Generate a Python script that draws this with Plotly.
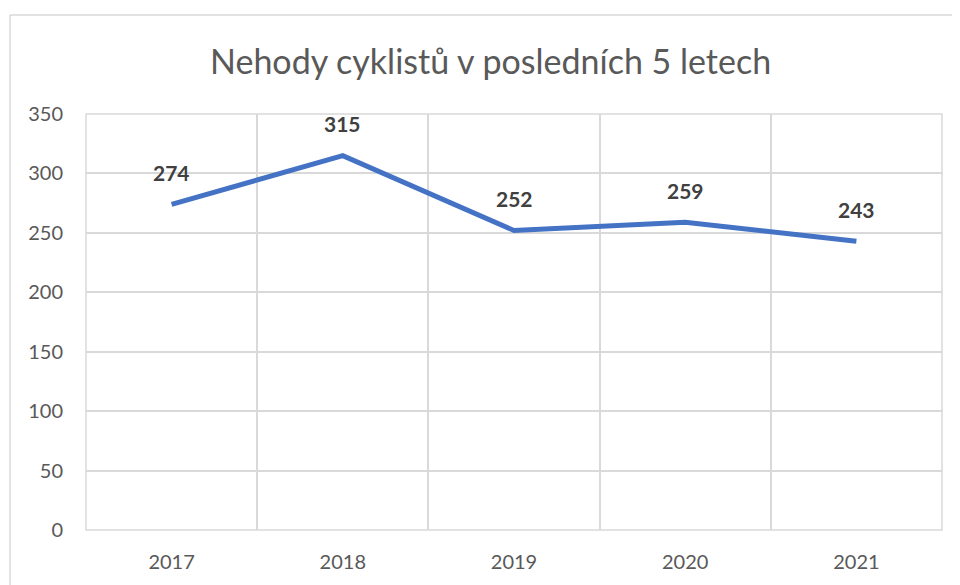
import plotly.graph_objects as go

# nehody cyklistu po letech
YEARS = [2017, 2018, 2019, 2020, 2021]
ACCIDENTS = [274, 315, 252, 259, 243]

LINE_COLOR = '#4472C4'
GRID_COLOR = '#D9D9D9'
TEXT_COLOR = '#595959'
FONT = 'Lato, Carlito, sans-serif'

# stranka ma okraj 8 px, plocha grafu ma byt 86..942 x 114..530 na obrazovce
FIG_W, FIG_H = 952, 577
L, T, W, H = 78, 106, 856, 416


def px_x(x):
    return (x - 8 - L) / W


def px_y(y):
    return (T + H - (y - 8)) / H


fig = go.Figure()
fig.add_trace(go.Scatter(x=YEARS, y=ACCIDENTS, mode='lines',
                         line=dict(color=LINE_COLOR, width=5),
                         hoverinfo='x+y', showlegend=False))

# popisky dat nad body
for year, value in zip(YEARS, ACCIDENTS):
    fig.add_annotation(x=year, y=value, text=f'<b>{value}</b>', showarrow=False,
                       yshift=32, font=dict(family=FONT, size=21, color='#404040'))

# ramecek grafu (jen horni a leva hrana jsou videt) a okraj plochy
fig.add_shape(type='line', xref='paper', yref='paper',
              x0=px_x(10), x1=px_x(960), y0=px_y(15), y1=px_y(15),
              line=dict(color=GRID_COLOR, width=1.5), layer='below')
fig.add_shape(type='line', xref='paper', yref='paper',
              x0=px_x(10), x1=px_x(10), y0=px_y(15), y1=px_y(585),
              line=dict(color=GRID_COLOR, width=1.5), layer='below')
fig.add_shape(type='rect', xref='paper', yref='paper', x0=0, x1=1, y0=0, y1=1,
              line=dict(color=GRID_COLOR, width=1.5), layer='below')

fig.add_annotation(text='Nehody cyklistů v posledních 5 letech', xref='paper', yref='paper',
                   x=px_x(490), y=px_y(60), xanchor='center', yanchor='middle',
                   showarrow=False, font=dict(family=FONT, size=34, color=TEXT_COLOR))

fig.update_layout(
    width=FIG_W, height=FIG_H,
    margin=dict(l=L, r=FIG_W - L - W, t=T, b=FIG_H - T - H),
    paper_bgcolor='white', plot_bgcolor='white',
    font=dict(family=FONT, color=TEXT_COLOR),
    xaxis=dict(range=[2016.5, 2021.5], tickvals=YEARS, showgrid=False, zeroline=False,
               showline=False, ticks='outside', ticklen=14, tickcolor='rgba(0,0,0,0)',
               automargin=False, tickfont=dict(size=20, color=TEXT_COLOR),
               minor=dict(tickvals=[2016.5 + i for i in range(6)], showgrid=True,
                          gridcolor=GRID_COLOR, gridwidth=1.5, ticks='')),
    yaxis=dict(range=[0, 350], dtick=50, showgrid=True, gridcolor=GRID_COLOR, gridwidth=1.5,
               zeroline=False, showline=False, ticks='outside', ticklen=18, automargin=False,
               tickcolor='rgba(0,0,0,0)', tickfont=dict(size=20, color=TEXT_COLOR)),
)

fig.write_html('out.html', config={'displayModeBar': False})
